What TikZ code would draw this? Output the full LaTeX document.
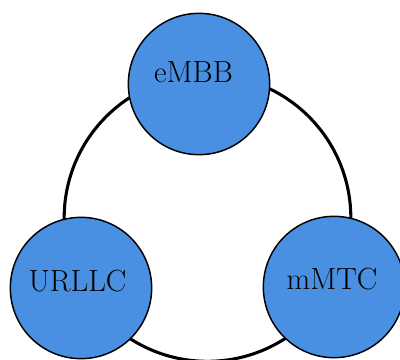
\documentclass[tikz,border=0pt]{standalone}
\begin{document}
\begin{tikzpicture}[x=0.75pt,y=-0.75pt,
  slice/.style={circle,draw=black,line width=1.1pt,fill=sliceblue,minimum size=106pt,inner sep=0pt},
  lbl/.style={anchor=base,inner sep=0pt,font=\fontsize{23}{27}\selectfont},
  ring/.style={line width=2.3pt,draw=black}]
\definecolor{sliceblue}{RGB}{74,144,226}
\useasboundingbox (0,0) rectangle (400,360);
\clip (0,0) rectangle (400,360);
\coordinate (c) at (207.5,218);
\draw[ring] (c) circle[radius=107.5pt];
\node[slice] (embb) at (199,84) {};
\node[slice] (urllc) at (81,288) {};
\node[slice] (mmtc) at (334,287) {};
\node[lbl] (tembb) at (193.5,83) {eMBB};
\node[lbl] (turllc) at (77.5,291) {URLLC};
\node[lbl] (tmmtc) at (332,289) {mMTC};
\end{tikzpicture}
\end{document}
